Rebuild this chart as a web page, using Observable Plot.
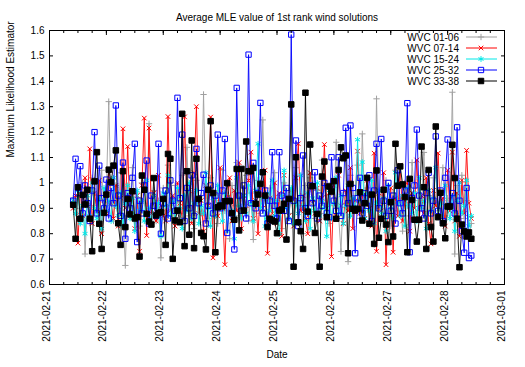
<!DOCTYPE html>
<html><head><meta charset="utf-8">
<script src="https://cdn.jsdelivr.net/npm/d3@7"></script>
<script src="https://cdn.jsdelivr.net/npm/@observablehq/plot@0.6"></script>
<style>
html,body{margin:0;padding:0;background:#fff;}
svg{font-family:"Liberation Sans",Arial,Helvetica,sans-serif;}
</style>
</head><body><div id="chart"></div>
<script>
// hourly samples starting at this time (UTC)
const startTime = "2021-02-21T10:00:00Z";
const stepHours = 1;

const seriesNames = ["WVC 01-06", "WVC 07-14", "WVC 15-24", "WVC 25-32", "WVC 33-38"];

const wvc0106 = [
0.94,0.90,0.97,0.88,1.00,0.72,0.93,0.86,1.02,0.91,
0.95,0.84,1.05,0.89,0.97,1.32,0.92,0.85,0.99,0.90,
1.04,0.87,0.675,0.95,0.91,1.06,0.88,0.96,0.83,1.00,
0.92,0.87,1.233,0.90,0.97,0.85,0.93,0.705,0.98,0.89,
1.07,0.91,0.86,0.99,0.93,0.88,1.03,0.90,1.14,0.87,
0.96,0.82,1.01,0.92,0.88,1.348,0.94,0.86,1.02,0.90,
0.97,0.84,0.93,1.05,0.89,0.95,0.78,0.99,0.91,1.08,
0.87,0.94,0.90,1.03,0.85,0.96,0.777,0.92,1.01,0.88,
1.248,0.93,0.86,0.98,0.90,1.04,0.87,0.95,0.82,1.00,
0.92,0.88,0.97,0.85,1.06,0.91,0.94,0.80,0.99,0.89,
1.02,0.93,0.86,0.97,0.90,1.09,0.88,0.95,0.84,1.00,
0.91,1.16,0.87,0.73,0.96,0.92,0.69,1.03,0.89,0.95,
1.07,0.86,1.193,0.91,0.98,0.85,0.94,0.757,1.331,0.90,
0.97,0.87,1.01,0.92,0.83,0.96,1.05,0.89,0.94,0.81,
1.00,0.91,0.87,1.08,0.93,0.86,0.98,0.90,1.12,0.88,
0.95,0.84,1.02,0.92,0.89,0.97,1.06,0.87,0.94,0.91,
1.357,0.72,0.99,0.88,1.03,0.86,0.93,0.79,0.84];

const wvc0714 = [
0.90,0.95,0.763,0.98,0.87,1.02,0.91,1.134,0.84,0.96,
0.89,1.01,0.80,0.93,0.88,1.05,0.92,0.86,0.99,0.83,
0.94,1.213,0.90,1.143,0.87,0.97,0.82,0.95,0.731,0.99,
1.255,0.793,1.216,0.88,0.96,0.85,1.03,0.91,0.87,0.85,
1.261,0.89,0.95,0.83,1.00,0.92,0.86,1.26,0.90,0.97,
0.84,1.04,1.30,0.88,0.93,0.81,0.99,0.91,1.259,0.705,
0.96,0.87,1.06,0.90,0.678,0.94,1.02,0.85,0.97,0.89,
1.08,0.82,0.95,0.91,1.01,1.121,0.86,0.93,0.80,0.98,
0.90,1.05,0.723,0.94,0.88,1.00,0.84,0.96,0.79,1.03,
0.91,0.87,0.97,0.83,1.02,1.154,0.89,0.95,0.86,0.80,
1.04,0.92,0.88,0.98,0.85,0.94,1.151,0.90,0.96,0.71,
0.99,0.87,1.03,0.91,0.84,0.97,0.89,1.06,0.82,0.93,
1.125,0.88,0.95,0.86,1.01,0.90,0.83,1.117,0.731,0.96,
0.89,1.04,0.678,0.92,0.98,0.727,0.94,0.87,1.07,0.85,
0.93,1.00,0.81,0.96,0.90,1.09,0.86,0.95,0.88,1.02,
0.84,0.76,0.97,0.91,1.117,0.87,0.94,0.83,1.05,0.89,
1.121,0.85,0.96,0.79,1.01,0.88,1.128,0.92,0.86];

const wvc1524 = [
0.93,0.88,0.97,0.84,0.91,0.80,0.95,0.87,1.00,0.90,
0.86,0.94,0.82,0.98,0.89,0.93,0.85,1.02,0.91,0.87,
0.96,0.83,0.92,0.99,0.86,0.94,0.81,0.97,0.89,0.93,
0.85,1.01,0.90,0.84,0.95,0.88,0.92,0.79,0.96,0.91,
1.03,0.87,0.93,0.85,0.98,0.90,0.82,0.95,0.89,1.00,
0.86,0.92,0.97,0.84,0.91,0.88,1.04,0.90,0.83,0.94,
0.87,0.99,0.92,0.85,0.96,0.81,0.93,0.89,0.78,1.02,
0.91,0.86,0.95,0.88,0.99,0.92,0.85,0.97,1.154,0.90,
0.94,0.83,0.96,0.89,1.01,0.87,0.93,0.80,0.95,1.049,
0.90,0.86,0.98,0.84,0.92,0.88,1.03,0.91,0.85,0.96,
0.82,0.94,0.89,1.00,0.87,0.93,0.90,0.79,0.97,0.86,
0.92,1.02,0.88,0.95,0.84,0.91,0.99,0.87,0.94,0.90,
1.17,0.93,1.082,0.86,0.96,0.89,1.01,0.84,0.92,0.97,
0.88,0.94,0.81,0.99,0.90,0.86,1.04,0.92,0.87,0.95,
0.83,0.98,0.91,0.88,0.96,0.85,1.02,0.90,0.93,0.82,
0.97,0.89,0.94,1.06,0.87,0.92,0.84,0.99,0.90,0.86,
0.95,0.81,0.93,1.00,0.88,0.91,1.01,0.83,0.87];

const wvc2532 = [
0.93,1.095,0.96,1.066,0.88,0.99,0.92,0.85,0.97,1.20,
0.88,1.068,0.94,0.90,1.013,0.86,0.98,0.92,1.305,0.95,
0.87,1.08,0.78,0.96,0.90,1.02,1.154,0.767,0.93,0.88,
0.99,1.088,0.84,0.95,0.91,0.87,1.154,0.80,0.92,0.97,
0.86,1.01,0.93,0.89,1.335,0.94,1.19,0.85,0.98,0.90,
1.03,0.87,1.134,0.92,0.96,1.032,0.84,0.91,0.99,0.88,
0.95,1.19,0.90,0.97,1.173,0.803,0.93,0.88,0.738,1.374,
0.95,0.89,0.99,0.86,1.505,0.92,1.079,0.90,0.96,1.315,
0.88,0.97,0.84,0.93,1.121,0.91,0.86,1.121,0.95,0.89,
0.98,0.85,1.584,0.93,1.167,0.83,0.94,1.108,0.90,0.87,
0.99,0.92,1.042,0.86,0.95,0.91,1.00,0.88,0.865,1.101,
0.93,0.89,1.101,0.87,0.96,1.217,0.92,1.226,0.98,0.723,
0.94,1.02,0.88,0.96,0.91,1.03,0.85,0.97,1.154,0.90,
1.173,0.93,0.87,1.00,0.89,0.95,0.84,1.05,0.92,0.88,
0.97,1.314,0.727,0.94,0.99,1.21,0.95,0.90,0.86,0.96,
1.04,0.88,0.93,1.183,0.89,0.97,0.85,1.02,1.171,0.91,
0.96,0.88,1.219,0.93,0.81,0.725,0.98,0.704,0.714];

const wvc3338 = [
0.914,0.78,0.983,0.859,0.953,0.915,0.973,0.859,0.731,1.006,
1.121,0.839,0.74,0.882,0.954,1.052,1.003,1.068,1.128,0.841,
0.756,1.046,0.826,0.937,0.876,0.967,0.86,0.865,0.71,1.029,
0.973,0.878,0.848,0.836,1.019,0.872,0.881,0.885,0.937,0.756,
1.114,1.095,0.701,0.852,0.891,0.845,1.272,0.751,1.046,0.796,
1.167,0.743,1.095,0.937,0.803,0.79,0.738,0.973,1.243,0.96,
0.727,0.904,0.911,0.908,0.928,0.999,0.928,0.881,0.855,1.055,
0.813,1.055,0.891,1.163,1.046,1.046,1.059,0.918,0.954,0.996,
1.042,0.95,0.826,0.859,0.852,0.848,0.802,0.891,0.895,0.918,
0.777,0.937,1.309,0.67,1.101,0.845,0.81,0.74,1.355,0.887,
1.151,0.987,0.803,0.878,0.67,1.025,1.084,0.865,0.986,0.966,
1.007,0.859,1.051,1.14,1.097,1.108,0.723,0.996,0.898,0.891,
0.898,0.963,0.852,0.92,1.02,0.839,0.954,0.76,1.049,0.784,
0.859,0.973,0.836,0.767,0.924,0.789,1.154,0.989,1.065,0.994,
0.944,0.727,1.016,0.933,0.855,0.769,0.855,1.143,0.983,0.74,
1.051,0.826,0.769,1.222,0.865,0.961,0.841,0.782,0.907,0.907,
1.15,1.019,0.859,0.668,0.836,0.809,0.789,0.805,0.78];

const seriesValues = [wvc0106, wvc0714, wvc1524, wvc2532, wvc3338];

const dayTicks = ["2021-02-21","2021-02-22","2021-02-23","2021-02-24","2021-02-25",
                  "2021-02-26","2021-02-27","2021-02-28","2021-03-01"];
const yTicks = [0.6,0.7,0.8,0.9,1.0,1.1,1.2,1.3,1.4,1.5,1.6];

const titleText = "Average MLE value of 1st rank wind solutions";
const xLabel = "Date";
const yLabel = "Maximum Likelihood Estimator";

// styles
const colors  = ["#a0a0a0", "#ff0000", "#00e8e8", "#0000ff", "#000000"];
const symbols = ["plus", "times", "asterisk", "square", "square"];
const radii   = [2.2, 2.2, 2.7, 3.0, 3.1];
const fills   = ["none", "none", "none", "none", "#000000"];

const t0 = new Date(startTime);
const rows = [];
seriesValues.forEach((vals, s) => vals.forEach((v, i) => rows.push({
  s, series: seriesNames[s], date: new Date(+t0 + i * stepHours * 3600e3), value: v
})));

const dayDates = dayTicks.map(d => new Date(d + "T00:00:00Z"));
const minorDates = d3.utcHour.every(6).range(dayDates[0], dayDates[dayDates.length - 1]);
const fmtY = d => String(+d.toFixed(1));

const marks = [];
seriesValues.forEach((vals, s) => {
  const data = rows.filter(r => r.s === s);
  marks.push(Plot.line(data, {x: "date", y: "value", stroke: colors[s], strokeWidth: 0.9}));
  marks.push(Plot.dot(data, {x: "date", y: "value", symbol: symbols[s], r: radii[s],
    stroke: colors[s], fill: fills[s], strokeWidth: 1}));
});

const chart = Plot.plot({
  width: 525, height: 367,
  marginLeft: 49, marginRight: 21, marginTop: 30, marginBottom: 83,
  style: {background: "#fff", fontFamily: "Liberation Sans, Arial, sans-serif", fontSize: "10px", color: "#000"},
  x: {type: "utc", domain: [dayDates[0], dayDates[dayDates.length - 1]]},
  y: {domain: [0.6, 1.6]},
  marks: [
    ...marks,
    Plot.axisY(yTicks, {anchor: "left", tickSize: -4, fill: "none", label: null}),
    Plot.axisY(yTicks, {anchor: "right", tickSize: -4, fill: "none", label: null}),
    Plot.axisX(dayDates, {anchor: "bottom", tickSize: -4, fill: "none", label: null}),
    Plot.axisX(dayDates, {anchor: "top", tickSize: -4, fill: "none", label: null}),
    Plot.axisX(minorDates, {anchor: "bottom", tickSize: -2, fill: "none", label: null}),
    Plot.axisX(minorDates, {anchor: "top", tickSize: -2, fill: "none", label: null}),
    Plot.frame({stroke: "#000"}),
    Plot.text(yTicks, {y: d => d, text: fmtY, frameAnchor: "left", dx: -5, textAnchor: "end", fontSize: 10}),
    Plot.text(dayTicks, {x: d => new Date(d + "T00:00:00Z"), text: d => d, frameAnchor: "bottom",
      dy: 6, rotate: -90, textAnchor: "end", fontSize: 10}),
    Plot.text([titleText], {text: d => d, frameAnchor: "top", dy: -17, fontSize: 10}),
    Plot.text([xLabel], {text: d => d, frameAnchor: "bottom", dy: 73, fontSize: 10}),
    Plot.text([yLabel], {text: d => d, frameAnchor: "left", dx: -39, rotate: -90, fontSize: 10})
  ]
});
document.getElementById("chart").appendChild(chart);

// legend (inside top-right of the frame)
const svg = d3.select(chart);
const lg = svg.append("g").attr("font-size", 10).attr("font-family", "Liberation Sans, Arial, sans-serif");
const rightX = 525 - 21;
const symMap = {plus: d3.symbolPlus, times: d3.symbolTimes, asterisk: d3.symbolAsterisk, square: d3.symbolSquare};
seriesNames.forEach((name, s) => {
  const y = 37 + s * 11;
  lg.append("text").attr("x", rightX - 45).attr("y", y).attr("dy", "0.35em")
    .attr("text-anchor", "end").attr("fill", "#000").text(name);
  lg.append("line").attr("x1", rightX - 38).attr("x2", rightX - 7).attr("y1", y).attr("y2", y)
    .attr("stroke", colors[s]).attr("stroke-width", 1);
  lg.append("path").attr("transform", `translate(${rightX - 23},${y})`)
    .attr("d", d3.symbol(symMap[symbols[s]], radii[s] * radii[s] * Math.PI)())
    .attr("stroke", colors[s]).attr("fill", fills[s]).attr("stroke-width", 1);
});
</script>
</body></html>
